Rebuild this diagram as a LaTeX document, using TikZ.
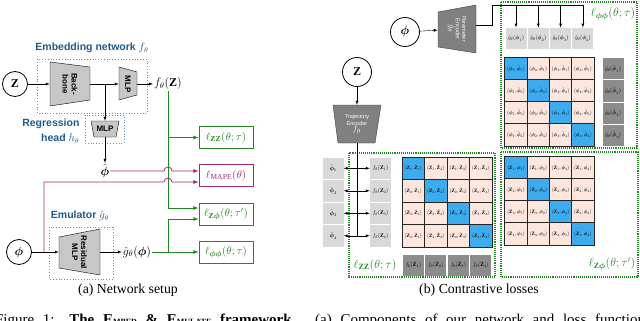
\documentclass[tikz,border=0pt]{standalone}
\usepackage{amsmath}
\usepackage{fontspec}
\setmainfont{Liberation Serif}
\setsansfont{Liberation Sans}

\definecolor{embblue}{RGB}{30,90,140}
\definecolor{dotblue}{RGB}{80,150,210}
\definecolor{lossgreen}{RGB}{35,135,35}
\definecolor{mapemag}{RGB}{165,40,115}
\definecolor{cellblue}{RGB}{60,172,238}
\definecolor{cellpink}{RGB}{252,230,222}

\begin{document}
\begin{tikzpicture}[x=1pt, y=-1pt, >=latex]
    \tikzstyle{circ}=[circle, draw, thick, minimum size=25pt, inner sep=0pt, font=\fontsize{12}{14}\selectfont]
    \tikzstyle{dotbox}=[draw=dotblue, dotted, thick]
    \tikzstyle{gbox}=[draw=lossgreen, densely dotted, line width=1.1pt]
    \tikzstyle{trap}=[draw, fill=black!22]
    \tikzstyle{enc}=[draw=black!75, fill=black!50]
    \tikzstyle{tt}=[inner sep=0pt, font=\sffamily\bfseries\fontsize{8}{9}\selectfont, align=center]
    \tikzstyle{wt}=[inner sep=0pt, text=white, font=\sffamily\fontsize{5.5}{6.5}\selectfont, align=center]
    \tikzstyle{lbl}=[text=embblue, font=\sffamily\bfseries\fontsize{10.5}{15}\selectfont]
    \tikzstyle{mth}=[inner sep=1pt, font=\fontsize{12}{14}\selectfont]
    \tikzstyle{loss}=[draw=lossgreen, thick, text=lossgreen, minimum width=54pt, minimum height=22pt, inner sep=0pt, font=\fontsize{11}{13}\selectfont]
    \tikzstyle{grn}=[lossgreen, thick, ->]
    \tikzstyle{mag}=[mapemag, thick, ->]
    \tikzstyle{cell}=[draw=black!85, line width=0.9pt, minimum size=22.2pt, inner sep=0pt]
    \tikzstyle{lgray}=[fill=black!15, minimum width=21pt, minimum height=21.5pt, inner sep=0pt]
    \tikzstyle{dgray}=[fill=black!45, minimum width=21pt, minimum height=21pt, inner sep=0pt]
    \tikzstyle{captxt}=[anchor=base, font=\fontsize{13.8}{16}\selectfont]
    \useasboundingbox (0,0) rectangle (640,321);
    \clip (0,0) rectangle (640,321);
    % (a) network setup
    \node[circ] (z) at (15,84) {$\mathbf{Z}$};
    \node[lbl] (embl) at (92,48) {Embedding network $f_\theta$};
    \draw[dotbox] (37,59) rectangle (147,113);
    \draw[trap] (50,62) -- (90,67) -- (90,100) -- (50,106) -- cycle;
    \node[tt, rotate=-90, minimum width=44pt, minimum height=40pt] (bb) at (70,84) {Back-\\bone};
    \draw[trap] (119,67) -- (137,72) -- (137,95) -- (119,100) -- cycle;
    \node[tt, rotate=-90, minimum width=33pt, minimum height=18pt] (mlp) at (128,84) {MLP};
    \node[mth] (fz) at (168,84) {$f_\theta(\mathbf{Z})$};
    \draw[->] (z) -- (bb);
    \draw[->] (bb) -- (mlp);
    \draw[->] (mlp) -- (fz);
    % regression head
    \coordinate (br) at (105,84);
    \node[lbl, align=right, anchor=east] (regl) at (83,131) {Regression\\head $h_\theta$};
    \draw[dotbox] (85,115) rectangle (124,143);
    \draw[trap] (91,121) -- (119,121) -- (116,137) -- (94,137) -- cycle;
    \node[tt, minimum width=28pt, minimum height=16pt] (hmlp) at (105,129) {MLP};
    \node[mth] (ph) at (105,171) {$\hat{\boldsymbol{\phi}}$};
    \draw[->] (br) -- (hmlp);
    \draw[->] (hmlp) -- (ph);
    % emulator
    \node[circ] (phi) at (19,252) {$\boldsymbol{\phi}$};
    \node[lbl] (emul) at (80,216) {Emulator $\hat g_\theta$};
    \draw[dotbox] (49,227) rectangle (113,279);
    \draw[trap] (59,237) -- (100,229) -- (100,275) -- (59,268) -- cycle;
    \node[tt, rotate=-90, minimum width=46pt, minimum height=41pt] (res) at (79.5,252) {Residual\\MLP};
    \node[mth] (gphi) at (137,252) {$\hat g_\theta(\boldsymbol{\phi})$};
    \draw[->] (phi) -- (res);
    \draw[->] (res) -- (gphi);
    % losses
    \node[loss] (lzz) at (226,137.5) {$\ell_{\mathbf{ZZ}}(\theta;\tau)$};
    \node[loss, draw=mapemag, text=mapemag] (lmape) at (226,175.5) {$\ell_{\mathrm{MAPE}}(\theta)$};
    \node[loss] (lzp) at (226,214) {$\ell_{\mathbf{Z}\boldsymbol{\phi}}(\theta;\tau')$};
    \node[loss] (lpp) at (226,252) {$\ell_{\boldsymbol{\phi\phi}}(\theta;\tau)$};
    \coordinate (up) at (168,208);
    \coordinate (lo) at (168,219);
    \draw[grn] (fz) -- (up) -- (lzp.west |- up);
    \draw[grn] (fz |- lzz) -- (lzz);
    \draw[grn] (gphi) -- (lpp);
    \draw[grn] (lo |- gphi) -- (lo) -- (lzp.west |- lo);
    \coordinate (m1) at (164,171);
    \coordinate (bp) at (44,252);
    \coordinate (m2) at (44,182);
    \draw[mag] (ph) -- (m1) arc[start angle=180, end angle=360, radius=4] -- (lmape.west |- m1);
    \draw[mag] (bp) -- (m2) -- ++(120,0) arc[start angle=180, end angle=360, radius=4] -- (lmape.west |- m2);
    \node[captxt] (capa) at (128,293) {(a) Network setup};
    % (b) contrastive losses
    \draw[gbox] (501,2) rectangle (637,148);
    \draw[gbox] (349,153) rectangle (495,277);
    \draw[gbox] (501,152) rectangle (638,277);
    \node[circ, minimum size=29pt] (phi2) at (405,32) {$\boldsymbol{\phi}$};
    \draw[enc] (438,12) -- (476,5) -- (476,53) -- (438,47) -- cycle;
    \node[wt, rotate=-90, minimum width=48pt, minimum height=38pt] (penc) at (457,29) {Parameter\\Encoder\\{\fontsize{8}{8}\selectfont$\hat g_\theta$}};
    \draw[->] (phi2) -- (penc);
    \coordinate (po) at (476,25);
    \coordinate (t0) at (492,5);
    \foreach \i/\x in {1/516,2/538.3,3/560.6,4/582.9} {
      \node[lgray] (g\i) at (\x,38.5) {\scalebox{.55}{$\hat g_\theta(\boldsymbol{\phi}_\i)$}};
      \draw[->] (g\i |- t0) -- (g\i);
    }
    \draw (po) -- (po -| t0) -- (t0) -- (g4 |- t0);
    \foreach \r/\y in {1/69,2/91,3/113,4/135} {
      \foreach \c/\x in {1/516,2/538.3,3/560.6,4/582.9} {
        \ifnum\r=\c \def\cf{cellblue}\else\def\cf{cellpink}\fi
        \node[cell, fill=\cf] (pp\r\c) at (\x,\y) {\scalebox{.5}{$(\boldsymbol{\phi}_\c,\tilde{\boldsymbol{\phi}}_\r)$}};
      }
      \node[dgray] (gt\r) at (613,\y) {\scalebox{.55}{$\hat g_\theta(\tilde{\boldsymbol{\phi}}_\r)$}};
    }
    \node[text=lossgreen, font=\fontsize{12}{14}\selectfont] (lppb) at (613,14) {$\ell_{\boldsymbol{\phi\phi}}(\theta;\tau)$};
    % trajectory side
    \node[circ, minimum size=29pt] (z2) at (357,72) {$\mathbf{Z}$};
    \draw[enc] (333,105) -- (381,105) -- (375,143) -- (338,143) -- cycle;
    \node[wt, minimum width=48pt, minimum height=38pt] (tenc) at (357,124) {Trajectory\\Encoder\\{\fontsize{8}{8}\selectfont$f_\theta$}};
    \draw[->] (z2) -- (tenc);
    \coordinate (tb) at (357,235.8);
    \draw (tenc) -- (tb);
    \foreach \r/\y in {1/168.3,2/190.8,3/213.3,4/235.8} {
      \node[lgray] (ph\r) at (333,\y) {\scalebox{.6}{$\hat{\boldsymbol{\phi}}_\r$}};
      \node[lgray] (fz\r) at (380.5,\y) {\scalebox{.55}{$f_\theta(\mathbf{Z}_\r)$}};
      \draw[<->] (ph\r) -- (fz\r);
      \foreach \c/\x in {1/413.3,2/435.8,3/458.3,4/480.8} {
        \ifnum\r=\c \def\cf{cellblue}\else\def\cf{cellpink}\fi
        \node[cell, minimum size=22.4pt, fill=\cf] (zz\r\c) at (\x,\y) {\scalebox{.5}{$(\mathbf{Z}_\r,\hat{\mathbf{Z}}_\c)$}};
      }
    }
    \foreach \c/\x in {1/413.3,2/435.8,3/458.3,4/480.8}
      \node[dgray] (fh\c) at (\x,265) {\scalebox{.55}{$f_\theta(\hat{\mathbf{Z}}_\c)$}};
    \node[text=lossgreen, font=\fontsize{12}{14}\selectfont] (lzzb) at (375,265) {$\ell_{\mathbf{ZZ}}(\theta;\tau)$};
    % Z-phi matrix
    \foreach \r/\y in {1/168,2/190,3/212,4/234} {
      \foreach \c/\x in {1/516,2/538.3,3/560.6,4/582.9} {
        \ifnum\r=\c \def\cf{cellblue}\else\def\cf{cellpink}\fi
        \node[cell, fill=\cf] (zp\r\c) at (\x,\y) {\scalebox{.5}{$(\mathbf{Z}_\r,\boldsymbol{\phi}_\c)$}};
      }
    }
    \node[text=lossgreen, font=\fontsize{12}{14}\selectfont] (lzpb) at (612,264) {$\ell_{\mathbf{Z}\boldsymbol{\phi}}(\theta;\tau')$};
    \node[captxt] (capb) at (479,293) {(b) Contrastive losses};
    % figure caption, cut at the bottom edge
    \node[captxt, font=\fontsize{15}{17}\selectfont] (fig) at (320,324) {\makebox[650pt][s]{Figure 1: \textbf{The E{\footnotesize MBED} \& E{\footnotesize MULATE} framework.} (a) Components of our network and loss function}};
\end{tikzpicture}
\end{document}
